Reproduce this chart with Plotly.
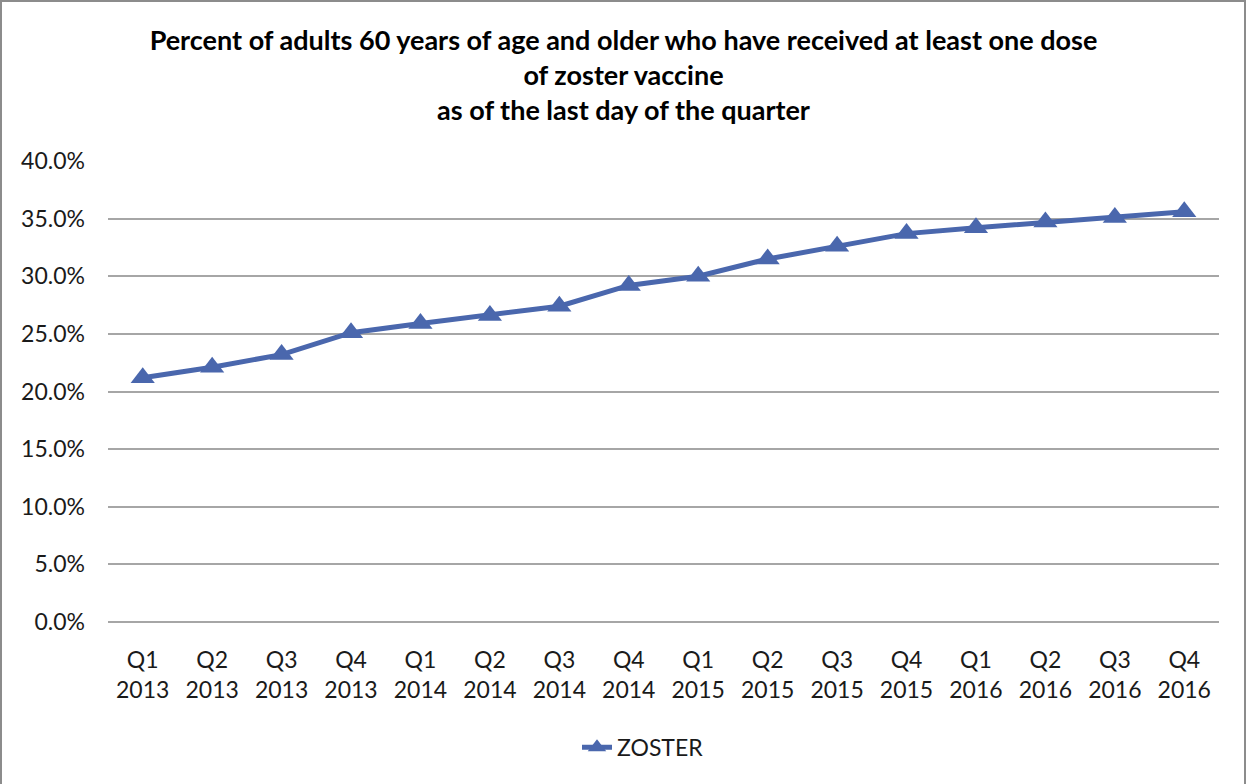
import plotly.graph_objects as go

# quarterly coverage
quarters = ["Q1<br>2013", "Q2<br>2013", "Q3<br>2013", "Q4<br>2013",
            "Q1<br>2014", "Q2<br>2014", "Q3<br>2014", "Q4<br>2014",
            "Q1<br>2015", "Q2<br>2015", "Q3<br>2015", "Q4<br>2015",
            "Q1<br>2016", "Q2<br>2016", "Q3<br>2016", "Q4<br>2016"]
zoster = [0.212, 0.221, 0.232, 0.251, 0.259, 0.266, 0.274, 0.292,
          0.300, 0.315, 0.326, 0.337, 0.342, 0.347, 0.351, 0.356]
y_ticks = [0.0, 0.05, 0.10, 0.15, 0.20, 0.25, 0.30, 0.35, 0.40]

BLUE = "#4A67AD"
GRID = "#A6A6A6"
FONT = "Lato, Open Sans, Arial, sans-serif"

W, H = 1247, 784
ML, MR, MT, MB = 108, 28, 161, 162

fig = go.Figure(go.Scatter(
    x=quarters, y=zoster,
    mode="lines+markers",
    name="ZOSTER",
    line=dict(color=BLUE, width=5),
    marker=dict(symbol="triangle-up", size=21, color=BLUE),
))

# outer chart border, placed in paper coords relative to the plot area
pw, ph = W - ML - MR, H - MT - MB
fig.add_shape(
    type="rect", xref="paper", yref="paper",
    x0=-(ML - 1) / pw, x1=1 + (MR - 2) / pw,
    y0=-(MB + 4) / ph, y1=1 + (MT - 1) / ph,
    line=dict(color="#8C8C8C", width=2), fillcolor="rgba(0,0,0,0)",
)

fig.update_layout(
    width=W, height=H,
    paper_bgcolor="white", plot_bgcolor="white",
    margin=dict(l=ML, r=MR, t=MT, b=MB),
    title=dict(
        text="<b>Percent of adults 60 years of age and older who have received at least one dose<br>"
             "of zoster vaccine<br>as of the last day of the quarter</b>",
        x=0.5, xanchor="center", y=(H - 50) / H, yanchor="top",
        font=dict(family=FONT, size=27, color="black"),
    ),
    font=dict(family=FONT, size=23, color="#1A1A1A"),
    xaxis=dict(
        type="category", range=[-0.5, 15.5],
        showgrid=False, showline=False, ticks="",
        ticklabelstandoff=22,
        tickfont=dict(size=23, color="#1A1A1A"),
    ),
    yaxis=dict(
        range=[0, 0.40], tickvals=y_ticks, tickformat=".1%",
        showgrid=True, gridcolor=GRID, gridwidth=1.5,
        zeroline=True, zerolinecolor=GRID, zerolinewidth=1.5,
        showline=False, ticks="",
        ticklabelstandoff=22,
        tickfont=dict(size=23, color="#1A1A1A"),
    ),
    showlegend=True,
    legend=dict(
        orientation="h", x=(643 - ML) / pw, xanchor="center", y=-0.225, yanchor="top",
        font=dict(size=23, color="#1A1A1A"),
    ),
)

fig.write_html("out.html", config={"displayModeBar": False},
               post_script="document.body.style.margin='0';")
